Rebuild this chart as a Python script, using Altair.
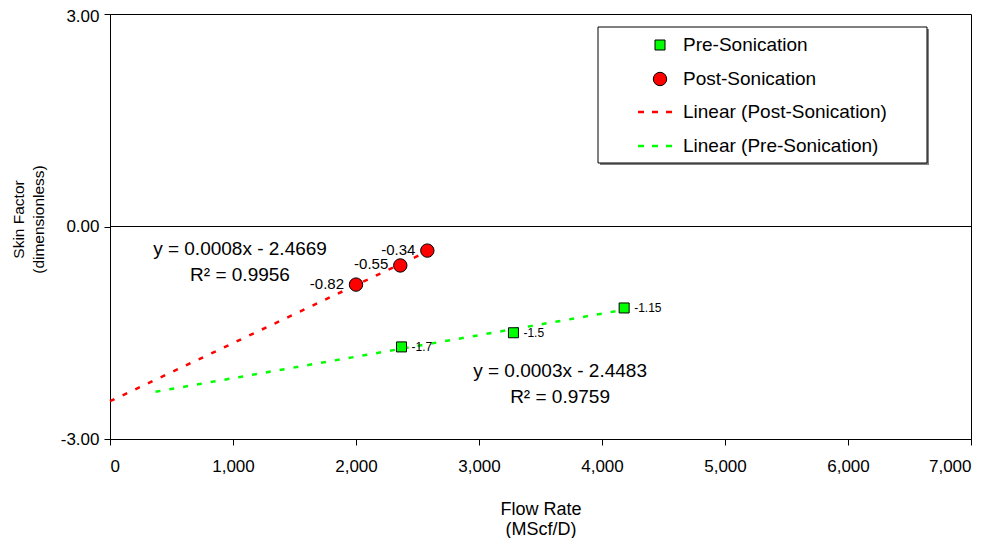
import altair as alt
import pandas as pd

# ---- data ----
post_flow = [2000, 2360, 2580]
post_skin = [-0.82, -0.55, -0.34]
post_labels = ["-0.82", "-0.55", "-0.34"]

pre_flow = [2370, 3280, 4180]
pre_skin = [-1.70, -1.50, -1.15]
pre_labels = ["-1.7", "-1.5", "-1.15"]

post_trend_extent = [0, 2580]
pre_trend_extent = [370, 4180]

x_ticks = [0, 1000, 2000, 3000, 4000, 5000, 6000, 7000]
y_ticks = [-3, 0, 3]

eq_text = ["y = 0.0008x - 2.4669", "R\u00b2 = 0.9956", "y = 0.0003x - 2.4483", "R\u00b2 = 0.9759"]
eq_flow = [1057, 1057, 3659, 3659]
eq_skin = [-0.32, -0.68, -2.04, -2.41]

legend_labels = ["Pre-Sonication", "Post-Sonication", "Linear (Post-Sonication)", "Linear (Pre-Sonication)"]

# ---- styling / layout ----
FONT = "Liberation Sans"
RED = "#ff0000"
GREEN = "#00ff00"
W, H = 861, 425

post_df = pd.DataFrame({"flow": post_flow, "skin": post_skin, "label": post_labels})
pre_df = pd.DataFrame({"flow": pre_flow, "skin": pre_skin, "label": pre_labels})
eq_df = pd.DataFrame({"flow": eq_flow, "skin": eq_skin, "text": eq_text})
zero_df = pd.DataFrame({"skin": [0]})

xs = alt.Scale(domain=[0, 7000], nice=False, zero=False)
ys = alt.Scale(domain=[-3, 3], nice=False, zero=False)

x_axis = alt.Axis(values=x_ticks, labelExpr="format(datum.value, ',')",
                  title=["Flow Rate", "(MScf/D)"],
                  labelFontSize=17, tickSize=6, labelPadding=13,
                  titleFontSize=18, titleLineHeight=20, titleBaseline="top", titleY=61)
y_axis = alt.Axis(values=y_ticks,
                  labelExpr="(datum.value < 0 ? '-' : '') + format(abs(datum.value), '.2f')",
                  labelBaseline={"condition": {"test": "datum.value == 3", "value": "top"}, "value": "middle"},
                  labelOffset={"condition": {"test": "datum.value == 3", "value": -6}, "value": 0},
                  title=["Skin Factor", "(dimensionless)"],
                  labelFontSize=17, tickSize=6, labelPadding=5,
                  titleFontSize=15.5, titleLineHeight=20, titleAngle=270,
                  titleBaseline="bottom", titleAlign="center", titleX=-84, titleY=205)

X = alt.X("flow:Q", scale=xs, axis=x_axis)
Y = alt.Y("skin:Q", scale=ys, axis=y_axis)

zero_rule = alt.Chart(zero_df).mark_rule(color="black", strokeWidth=1).encode(y=Y)

post_trend = alt.Chart(post_df).transform_regression(
    "flow", "skin", method="linear", extent=post_trend_extent
).mark_line(color=RED, strokeWidth=2.5, strokeDash=[5, 9]).encode(x=X, y=Y)

pre_trend = alt.Chart(pre_df).transform_regression(
    "flow", "skin", method="linear", extent=pre_trend_extent
).mark_line(color=GREEN, strokeWidth=2.5, strokeDash=[5, 9]).encode(x=X, y=Y)

post_pts = alt.Chart(post_df).mark_point(
    shape="circle", filled=True, fill=RED, stroke="black", strokeWidth=1, size=180, opacity=1
).encode(x=X, y=Y)

pre_pts = alt.Chart(pre_df).mark_point(
    shape="square", filled=True, fill=GREEN, stroke="black", strokeWidth=1, size=100, opacity=1
).encode(x=X, y=Y)

post_lbl = alt.Chart(post_df).mark_text(
    font=FONT, fontSize=15, color="black", align="right", baseline="middle", dx=-12, dy=-1
).encode(x=X, y=Y, text="label:N")

pre_lbl = alt.Chart(pre_df).mark_text(
    font=FONT, fontSize=12, color="black", align="left", baseline="middle", dx=10
).encode(x=X, y=Y, text="label:N")

eq = alt.Chart(eq_df).mark_text(
    font=FONT, fontSize=19, color="black", align="center", baseline="middle"
).encode(x=X, y=Y, text="text:N")

# ---- legend box (drawn by hand) ----
lg_x0, lg_x1, lg_y0, lg_y1 = 488, 817, 13, 149
sym_x, txt_x = 550, 573
rows = [31, 65, 98, 132]

shadow = alt.Chart(zero_df).mark_rect(fill="#808080").encode(
    x=alt.value(lg_x0 + 2), x2=alt.value(lg_x1 + 2), y=alt.value(lg_y0 + 2), y2=alt.value(lg_y1 + 2))
box = alt.Chart(zero_df).mark_rect(fill="white", stroke="black", strokeWidth=1).encode(
    x=alt.value(lg_x0), x2=alt.value(lg_x1), y=alt.value(lg_y0), y2=alt.value(lg_y1))
lg_sq = alt.Chart(zero_df).mark_point(shape="square", filled=True, fill=GREEN, stroke="black",
                                      strokeWidth=1, size=100, opacity=1).encode(
    x=alt.value(sym_x), y=alt.value(rows[0]))
lg_ci = alt.Chart(zero_df).mark_point(shape="circle", filled=True, fill=RED, stroke="black",
                                      strokeWidth=1, size=180, opacity=1).encode(
    x=alt.value(sym_x), y=alt.value(rows[1]))
lg_l1 = alt.Chart(zero_df).mark_rule(color=RED, strokeWidth=2.5, strokeDash=[6, 8]).encode(
    x=alt.value(528), x2=alt.value(567), y=alt.value(rows[2]))
lg_l2 = alt.Chart(zero_df).mark_rule(color=GREEN, strokeWidth=2.5, strokeDash=[6, 8]).encode(
    x=alt.value(528), x2=alt.value(567), y=alt.value(rows[3]))
lg_txt = [
    alt.Chart(zero_df).mark_text(font=FONT, fontSize=19, color="black", align="left",
                                 baseline="middle", text=lab).encode(
        x=alt.value(txt_x), y=alt.value(r))
    for lab, r in zip(legend_labels, rows)
]

chart = alt.layer(
    zero_rule, post_trend, pre_trend, post_lbl, pre_lbl, post_pts, pre_pts, eq,
    shadow, box, lg_sq, lg_ci, lg_l1, lg_l2, *lg_txt
).properties(
    width=W, height=H,
    autosize=alt.AutoSizeParams(type="none"),
    padding={"left": 102, "top": 6, "right": 17, "bottom": 99},
).configure_view(
    stroke="black", strokeWidth=1
).configure_axis(
    domainColor="black", tickColor="black", labelColor="black", titleColor="black",
    labelFont=FONT, titleFont=FONT, titleFontWeight="normal", grid=False,
    domainWidth=1, tickWidth=1
)

chart.save("out.html", embed_options={"renderer": "svg", "actions": False})
